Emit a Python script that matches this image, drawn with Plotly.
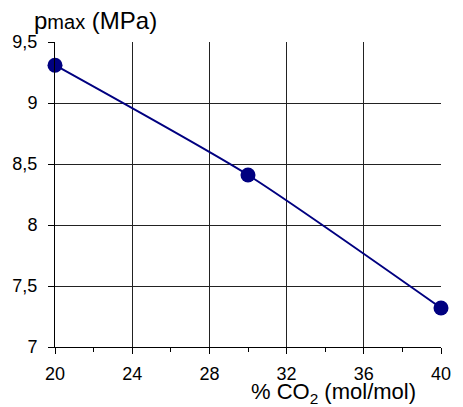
import plotly.graph_objects as go

co2 = [20, 30, 40]
pmax = [9.31, 8.41, 7.32]
x_ticks = [20, 24, 28, 32, 36, 40]
x_minor = [22, 26, 30, 34, 38]
y_ticks = [7, 7.5, 8, 8.5, 9, 9.5]

W, H = 463, 407
l, r, t, b = 53, 12, 42, 60
pw, ph = W - l - r, H - t - b

def px(xp):
    return (xp - l) / pw

def py(yp):
    return (H - b - yp) / ph

fig = go.Figure()
fig.add_trace(go.Scatter(
    x=co2, y=pmax, mode="lines+markers",
    line=dict(color="#000080", width=2, shape="spline", smoothing=0.6),
    marker=dict(color="#000080", size=15),
    cliponaxis=False,
))

font = "Liberation Sans, Arial, sans-serif"
fig.update_layout(
    width=W, height=H,
    margin=dict(l=l, r=r, t=t, b=b),
    paper_bgcolor="white", plot_bgcolor="white",
    separators=", ",
    showlegend=False,
    font=dict(family=font, size=18, color="black"),
    xaxis=dict(
        range=[20, 40], tickvals=x_ticks, ticks="outside", ticklen=6,
        tickcolor="black", showline=True, linecolor="black", linewidth=1,
        showgrid=True, gridcolor="#222", gridwidth=1, zeroline=False,
        minor=dict(tickvals=x_minor, ticks="outside", ticklen=4, tickcolor="black", showgrid=False),
        tickfont=dict(size=18), ticklabelstandoff=4,
    ),
    yaxis=dict(
        range=[7, 9.5], tickvals=y_ticks, ticks="outside", ticklen=6,
        tickcolor="black", showline=True, linecolor="black", linewidth=1,
        showgrid=True, gridcolor="#222", gridwidth=1, zeroline=False,
        tickfont=dict(size=18), ticklabelstandoff=7,
    ),
    annotations=[
        dict(text='p<span style="font-size:20px">max</span> (MPa)', x=px(29), y=py(20),
             xref="paper", yref="paper",
             showarrow=False, font=dict(size=24), xanchor="left", yanchor="middle"),
        dict(text="% CO<sub>2</sub> (mol/mol)", x=px(340), y=py(393), xref="paper", yref="paper",
             showarrow=False, font=dict(size=22), xanchor="center", yanchor="middle"),
    ],
)
fig.write_html("out.html")
